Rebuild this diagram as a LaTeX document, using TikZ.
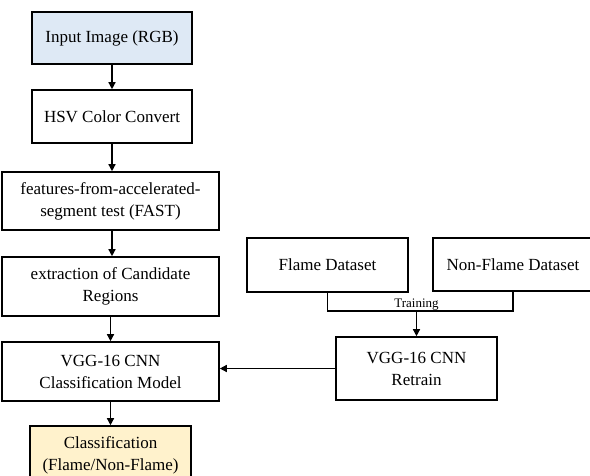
\documentclass[tikz,border=0pt]{standalone}
\usepackage{fontspec}
\setmainfont{Liberation Serif}
\usetikzlibrary{arrows.meta}
\definecolor{inblue}{RGB}{222,233,245}
\definecolor{outyellow}{RGB}{255,242,204}

\begin{document}
\begin{tikzpicture}[x=1pt,y=-1pt,
	box/.style={draw,line width=1.6pt,align=center,inner sep=0pt,
		font=\fontsize{17}{22}\selectfont},
	link/.style={line width=1.4pt,-{Triangle[length=7pt,width=7pt]}}]
	\useasboundingbox (0,0) rectangle (590,475);
	% main chain
	\node[box,fill=inblue,minimum width=160pt,minimum height=52pt] (input) at (112,38) {Input Image (RGB)};
	\node[box,minimum width=160pt,minimum height=53pt] (hsv) at (112,116.5) {HSV Color Convert};
	\node[box,minimum width=217pt,minimum height=58pt] (fast) at (110.5,201) {features-from-accelerated-\\segment test (FAST)};
	\node[box,minimum width=217pt,minimum height=59pt] (cand) at (110.5,286.5) {extraction of Candidate\\Regions};
	\node[box,minimum width=217pt,minimum height=59pt] (vgg) at (110.5,371.5) {VGG-16 CNN\\Classification Model};
	\node[box,fill=outyellow,minimum width=161pt,minimum height=58pt] (cls) at (110.5,455) {Classification\\(Flame/Non-Flame)};
	% training branch
	\node[box,minimum width=161pt,minimum height=54pt] (flame) at (327.5,265) {Flame Dataset};
	\node[box,minimum width=160pt,minimum height=53pt] (nonflame) at (513,264.5) {Non-Flame Dataset};
	\node[box,minimum width=161pt,minimum height=63pt] (retrain) at (416.5,368.5) {VGG-16 CNN\\Retrain};
	\coordinate (join) at (416.5,311);
	\draw[line width=1.4pt] (flame.south) |- (join) -| (nonflame.south);
	\node[above,inner sep=1pt,font=\fontsize{13}{15}\selectfont] (train) at (join) {Training};
	\draw[link] (join) -- (retrain.north);
	% arrows
	\draw[link] (input) -- (hsv);
	\draw[link] (hsv) -- (hsv.south |- fast.north);
	\draw[link] (fast.south -| hsv.south) -- (hsv.south |- cand.north);
	\draw[link] (cand) -- (vgg);
	\draw[link] (vgg) -- (cls);
	\draw[link] (retrain.west) -- (retrain.west -| vgg.east);
\end{tikzpicture}
\end{document}
